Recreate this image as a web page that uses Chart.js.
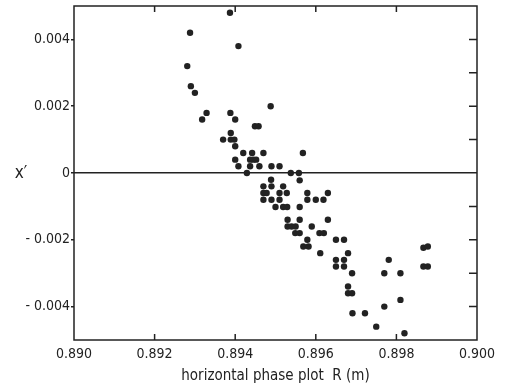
<!DOCTYPE html>
<html>
<head>
<meta charset="utf-8">
<script src="https://cdn.jsdelivr.net/npm/chart.js@4"></script>
<style>
  html, body { margin: 0; padding: 0; background: #fff; }
  #wrap { width: 505px; height: 389px; }
</style>
</head>
<body>
<div id="wrap"><canvas id="c"></canvas></div>
<script>
// horizontal phase plot: R (m) against x'
const rValues = [
  0.89387, 0.89288, 0.89408, 0.89281, 0.8929, 0.8930, 0.89488, 0.89329, 0.89318, 0.89388,
  0.8940, 0.89449, 0.89458, 0.8937, 0.89389, 0.89389, 0.89398, 0.8940, 0.8942, 0.89442,
  0.8947, 0.89568, 0.8940, 0.89437, 0.89445, 0.89452, 0.89408, 0.89437, 0.8946, 0.8949,
  0.8951, 0.89429, 0.89538, 0.89558, 0.8956, 0.89489, 0.8947, 0.8949, 0.89519, 0.8947,
  0.89478, 0.8951, 0.89528, 0.89579, 0.8963, 0.8947, 0.8949, 0.8951, 0.89579, 0.8960,
  0.89619, 0.8950, 0.89519, 0.89529, 0.8956, 0.8953, 0.8956, 0.8963, 0.8953, 0.8954,
  0.8955, 0.8959, 0.89549, 0.8956, 0.89609, 0.8962, 0.89579, 0.8965, 0.8967, 0.89569,
  0.89582, 0.89611, 0.8968, 0.8965, 0.8967, 0.8965, 0.8967, 0.8969, 0.8968, 0.8968,
  0.8969, 0.89691, 0.89722, 0.8975, 0.8977, 0.8977, 0.89781, 0.8981, 0.8981, 0.8982,
  0.89867, 0.89878, 0.89867, 0.89878
];
const xPrimeValues = [
  0.0048, 0.0042, 0.0038, 0.0032, 0.0026, 0.0024, 0.0020, 0.0018, 0.0016, 0.0018,
  0.0016, 0.0014, 0.0014, 0.0010, 0.0012, 0.0010, 0.0010, 0.0008, 0.0006, 0.0006,
  0.0006, 0.0006, 0.0004, 0.0004, 0.0004, 0.0004, 0.0002, 0.0002, 0.0002, 0.0002,
  0.0002, 0.0, 0.0, 0.0, -0.00022, -0.0002, -0.0004, -0.0004, -0.0004, -0.0006,
  -0.0006, -0.0006, -0.0006, -0.0006, -0.0006, -0.0008, -0.0008, -0.0008, -0.0008, -0.0008,
  -0.0008, -0.00102, -0.00102, -0.00102, -0.00102, -0.0014, -0.0014, -0.0014, -0.0016, -0.0016,
  -0.0016, -0.0016, -0.0018, -0.0018, -0.0018, -0.0018, -0.0020, -0.0020, -0.0020, -0.0022,
  -0.0022, -0.0024, -0.0024, -0.0026, -0.0026, -0.0028, -0.0028, -0.0030, -0.0034, -0.0036,
  -0.0036, -0.0042, -0.0042, -0.0046, -0.0040, -0.0030, -0.0026, -0.0030, -0.0038, -0.0048,
  -0.00224, -0.0022, -0.0028, -0.0028
];
const xTickValues = [0.890, 0.892, 0.894, 0.896, 0.898, 0.900];
const yTickValues = [-0.004, -0.002, 0, 0.002, 0.004];
const yMinorTicks = [-0.004, -0.003, -0.002, -0.001, 0.001, 0.002, 0.003, 0.004];
const xInnerTicks = [0.892, 0.894, 0.896, 0.898];

const INK = "#222";
const FONT = "'Liberation Sans Narrow', 'DejaVu Sans Condensed', sans-serif";

const points = rValues.map((r, i) => ({ x: r, y: xPrimeValues[i] }));

// frame, inner ticks and the unrotated y label
const framePlugin = {
  id: "frame",
  afterDraw(chart) {
    const { ctx, chartArea: a, scales } = chart;
    ctx.save();
    ctx.strokeStyle = INK;
    ctx.lineWidth = 1.5;
    ctx.strokeRect(a.left, a.top, a.right - a.left, a.bottom - a.top);
    ctx.beginPath();
    yMinorTicks.forEach(v => {
      const y = scales.y.getPixelForValue(v);
      ctx.moveTo(a.right, y);
      ctx.lineTo(a.right - 8, y);
    });
    xInnerTicks.forEach(v => {
      const x = scales.x.getPixelForValue(v);
      ctx.moveTo(x, a.bottom);
      ctx.lineTo(x, a.bottom - 6);
      ctx.moveTo(x, a.top);
      ctx.lineTo(x, a.top + 6);
    });
    ctx.stroke();
    ctx.fillStyle = INK;
    ctx.font = "17px " + FONT;
    ctx.textAlign = "center";
    ctx.textBaseline = "middle";
    ctx.fillText("x\u2032", 21, scales.y.getPixelForValue(0) + 1);
    ctx.restore();
  }
};

new Chart(document.getElementById("c"), {
  type: "scatter",
  data: {
    datasets: [
      {
        data: points,
        backgroundColor: INK,
        borderWidth: 0,
        pointRadius: 3.2,
      },
    ],
  },
  options: {
    responsive: true,
    maintainAspectRatio: false,
    animation: false,
    layout: { padding: { left: 0, right: 28, top: 6, bottom: 0 } },
    plugins: {
      legend: { display: false },
      tooltip: { enabled: false },
    },
    scales: {
      x: {
        type: "linear",
        min: 0.890,
        max: 0.900,
        afterBuildTicks: s => { s.ticks = xTickValues.map(v => ({ value: v })); },
        afterFit: s => { s.height = 49; s.paddingLeft = 0; s.paddingRight = 0; },
        grid: { display: false },
        border: { display: false },
        ticks: {
          color: INK,
          font: { family: FONT, size: 14 },
          padding: -2,
          maxRotation: 0,
          callback: v => v.toFixed(3),
        },
        title: {
          display: true,
          text: "horizontal phase plot  R (m)",
          color: INK,
          font: { family: FONT, size: 15 },
          padding: { top: 1 },
        },
      },
      y: {
        type: "linear",
        min: -0.005,
        max: 0.005,
        afterBuildTicks: s => { s.ticks = yTickValues.map(v => ({ value: v })); },
        afterFit: s => { s.width = 74; s.paddingTop = 0; s.paddingBottom = 0; },
        grid: {
          drawOnChartArea: true,
          color: c => (c.tick && c.tick.value === 0 ? INK : "rgba(0,0,0,0)"),
          lineWidth: 1.5,
          tickColor: INK,
          tickLength: 3,
        },
        border: { display: false },
        ticks: {
          color: INK,
          font: { family: FONT, size: 14 },
          padding: 1,
          callback: v => (v === 0 ? "0" : v < 0 ? "- " + Math.abs(v).toFixed(3) : v.toFixed(3)),
        },
      },
    },
  },
  plugins: [framePlugin],
});
</script>
</body>
</html>
